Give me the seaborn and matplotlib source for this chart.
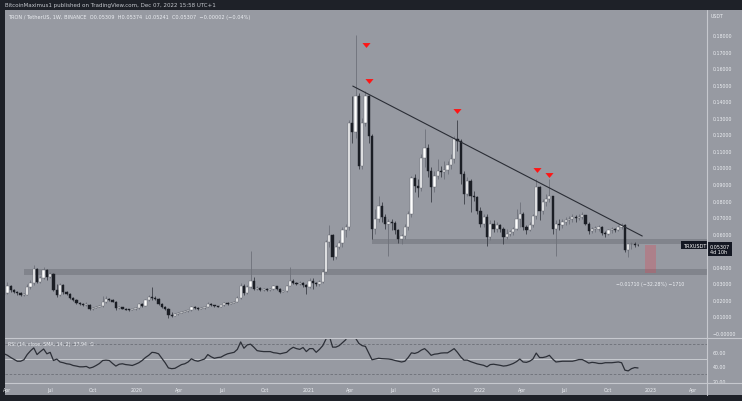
import numpy as np
import pandas as pd
import matplotlib
matplotlib.use("Agg")
import matplotlib.pyplot as plt
import matplotlib.dates as mdates
import matplotlib.transforms as mtransforms
from matplotlib.patches import Rectangle
from matplotlib.path import Path
import seaborn as sns

# ---------------- data (weekly TRX/USDT candles) ----------------
start_date = "2019-03-25"
first_open = 0.0232
closes = [
    0.0240, 0.0285, 0.0260, 0.0250, 0.0240, 0.0230, 0.0232, 0.0275, 0.0300, 0.0385,
    0.0310, 0.0330, 0.0378, 0.0340, 0.0355, 0.0262, 0.0228, 0.0290, 0.0245, 0.0235,
    0.0212, 0.0200, 0.0182, 0.0176, 0.0170, 0.0172, 0.0146, 0.0154, 0.0160, 0.0164,
    0.0186, 0.0205, 0.0200, 0.0190, 0.0152, 0.0156, 0.0148, 0.0142, 0.0139, 0.0143,
    0.0150, 0.0175, 0.0166, 0.0198, 0.0215, 0.0212, 0.0208, 0.0176, 0.0156, 0.0146,
    0.0110, 0.0105, 0.0115, 0.0121, 0.0128, 0.0132, 0.0136, 0.0156, 0.0150, 0.0148,
    0.0152, 0.0158, 0.0176, 0.0168, 0.0163, 0.0160, 0.0168, 0.0180, 0.0178, 0.0184,
    0.0188, 0.0211, 0.0284, 0.0240, 0.0278, 0.0314, 0.0266, 0.0272, 0.0262, 0.0265,
    0.0260, 0.0264, 0.0282, 0.0266, 0.0249, 0.0254, 0.0284, 0.0312, 0.0305, 0.0296,
    0.0302, 0.0288, 0.0278, 0.0315, 0.0300, 0.0295, 0.0310, 0.0370, 0.0550, 0.0592,
    0.0462, 0.0520, 0.0545, 0.0625, 0.0640, 0.1270, 0.1215, 0.1430, 0.1010, 0.1270,
    0.1430, 0.1190, 0.0630, 0.0690, 0.0770, 0.0700, 0.0660, 0.0670, 0.0665, 0.0620,
    0.0570, 0.0585, 0.0640, 0.0720, 0.0935, 0.0890, 0.0875, 0.1060, 0.1120, 0.0980,
    0.0880, 0.0950, 0.0980, 0.0970, 0.0985, 0.1015, 0.1050, 0.1170, 0.1160, 0.0960,
    0.0840, 0.0920, 0.0830, 0.0820, 0.0740, 0.0660, 0.0700, 0.0580, 0.0660, 0.0630,
    0.0650, 0.0630, 0.0580, 0.0600, 0.0610, 0.0630, 0.0690, 0.0720, 0.0640, 0.0625,
    0.0650, 0.0705, 0.0880, 0.0740, 0.0790, 0.0810, 0.0825, 0.0630, 0.0660, 0.0650,
    0.0672, 0.0680, 0.0688, 0.0700, 0.0692, 0.0700, 0.0710, 0.0660, 0.0618, 0.0628,
    0.0630, 0.0638, 0.0602, 0.0598, 0.0620, 0.0628, 0.0625, 0.0638, 0.0650, 0.0500,
    0.0535, 0.0540, 0.05309, 0.05307,
]
highs = [
    0.0255, 0.0310, 0.0290, 0.0265, 0.0255, 0.0245, 0.0240, 0.0295, 0.0320, 0.0410,
    0.0392, 0.0342, 0.0400, 0.0388, 0.0370, 0.0362, 0.0298, 0.0300, 0.0295, 0.0252,
    0.0240, 0.0218, 0.0205, 0.0188, 0.0180, 0.0185, 0.0176, 0.0160, 0.0165, 0.0170,
    0.0225, 0.0222, 0.0212, 0.0204, 0.0192, 0.0162, 0.0160, 0.0150, 0.0146, 0.0148,
    0.0155, 0.0182, 0.0180, 0.0205, 0.0228, 0.0280, 0.0222, 0.0212, 0.0180, 0.0162,
    0.0150, 0.0125, 0.0122, 0.0128, 0.0135, 0.0138, 0.0142, 0.0165, 0.0162, 0.0155,
    0.0158, 0.0164, 0.0188, 0.0180, 0.0172, 0.0166, 0.0172, 0.0190, 0.0185, 0.0190,
    0.0195, 0.0222, 0.0300, 0.0295, 0.0290, 0.0495, 0.0340, 0.0282, 0.0276, 0.0272,
    0.0270, 0.0270, 0.0290, 0.0286, 0.0270, 0.0260, 0.0292, 0.0400, 0.0325, 0.0310,
    0.0312, 0.0306, 0.0296, 0.0335, 0.0330, 0.0310, 0.0318, 0.0385, 0.0560, 0.0650,
    0.0600, 0.0530, 0.0560, 0.0640, 0.0660, 0.1290, 0.1430, 0.1800, 0.1450, 0.1300,
    0.1460, 0.1440, 0.1200, 0.0750, 0.0830, 0.0790, 0.0720, 0.0690, 0.0690, 0.0675,
    0.0630, 0.0600, 0.0660, 0.0740, 0.0950, 0.0960, 0.0930, 0.1080, 0.1230, 0.1140,
    0.1000, 0.0980, 0.1050, 0.1010, 0.1040, 0.1040, 0.1080, 0.1190, 0.1290, 0.1170,
    0.0980, 0.0940, 0.0930, 0.0860, 0.0830, 0.0760, 0.0720, 0.0720, 0.0680, 0.0680,
    0.0670, 0.0660, 0.0640, 0.0630, 0.0625, 0.0640, 0.0750, 0.0790, 0.0730, 0.0650,
    0.0670, 0.0720, 0.0930, 0.0890, 0.0810, 0.0840, 0.0930, 0.0830, 0.0680, 0.0690,
    0.0690, 0.0700, 0.0705, 0.0720, 0.0715, 0.0720, 0.0730, 0.0715, 0.0670, 0.0640,
    0.0645, 0.0650, 0.0645, 0.0615, 0.0630, 0.0638, 0.0635, 0.0650, 0.0665, 0.0660,
    0.0545, 0.0550, 0.0552, 0.05374,
]
lows = [
    0.0230, 0.0235, 0.0250, 0.0242, 0.0232, 0.0222, 0.0222, 0.0228, 0.0265, 0.0292,
    0.0300, 0.0305, 0.0325, 0.0320, 0.0330, 0.0255, 0.0220, 0.0225, 0.0238, 0.0228,
    0.0205, 0.0195, 0.0176, 0.0170, 0.0165, 0.0165, 0.0138, 0.0142, 0.0150, 0.0157,
    0.0160, 0.0182, 0.0192, 0.0185, 0.0140, 0.0145, 0.0144, 0.0138, 0.0132, 0.0136,
    0.0140, 0.0148, 0.0160, 0.0162, 0.0192, 0.0200, 0.0198, 0.0170, 0.0150, 0.0140,
    0.0090, 0.0098, 0.0100, 0.0110, 0.0118, 0.0124, 0.0128, 0.0134, 0.0144, 0.0138,
    0.0144, 0.0148, 0.0156, 0.0162, 0.0158, 0.0155, 0.0158, 0.0166, 0.0172, 0.0174,
    0.0180, 0.0185, 0.0205, 0.0232, 0.0236, 0.0270, 0.0258, 0.0260, 0.0255, 0.0256,
    0.0254, 0.0256, 0.0260, 0.0260, 0.0244, 0.0246, 0.0250, 0.0282, 0.0295, 0.0288,
    0.0292, 0.0280, 0.0236, 0.0270, 0.0266, 0.0282, 0.0285, 0.0300, 0.0360, 0.0520,
    0.0440, 0.0450, 0.0505, 0.0520, 0.0580, 0.0620, 0.1150, 0.1180, 0.0990, 0.0990,
    0.1250, 0.1150, 0.0570, 0.0600, 0.0670, 0.0670, 0.0630, 0.0465, 0.0620, 0.0600,
    0.0545, 0.0540, 0.0570, 0.0620, 0.0700, 0.0850, 0.0820, 0.0860, 0.1000, 0.0940,
    0.0790, 0.0850, 0.0930, 0.0940, 0.0930, 0.0960, 0.0990, 0.1030, 0.1100, 0.0900,
    0.0780, 0.0830, 0.0730, 0.0800, 0.0720, 0.0640, 0.0640, 0.0526, 0.0560, 0.0610,
    0.0610, 0.0610, 0.0540, 0.0570, 0.0585, 0.0595, 0.0620, 0.0640, 0.0620, 0.0600,
    0.0615, 0.0640, 0.0690, 0.0680, 0.0720, 0.0770, 0.0790, 0.0600, 0.0465, 0.0620,
    0.0635, 0.0650, 0.0660, 0.0670, 0.0670, 0.0680, 0.0690, 0.0650, 0.0600, 0.0605,
    0.0612, 0.0615, 0.0590, 0.0580, 0.0595, 0.0605, 0.0610, 0.0615, 0.0630, 0.0490,
    0.0460, 0.0505, 0.0520, 0.05241,
]
rsi_values = [
    57, 55, 52, 49.5, 47, 47, 49, 56, 61, 65,
    56, 60, 63.5, 57, 59, 48, 50, 46, 45, 43.6,
    43, 41.3, 40.5, 39.5, 39.5, 40, 37.8, 39, 41.3, 44,
    48, 48.5, 48, 44, 40.5, 43, 43.6, 42.5, 42, 41.3,
    43, 45, 48, 52, 55, 59, 58.5, 57, 51, 45,
    38, 37, 37.5, 40, 42.5, 43.6, 46, 50.3, 48, 47,
    48.5, 50, 56, 53, 51, 52, 52.5, 55, 57, 58,
    59, 63, 73, 64.5, 69, 70, 66, 61.3, 60.5, 60,
    60, 60, 58.5, 58, 57, 58, 59, 63, 65.8, 64,
    63, 65.5, 60, 64, 64, 59, 63, 68, 77, 81,
    66, 66, 68, 72, 76, 86, 83, 78, 71, 68,
    67, 58, 49, 50, 51, 50.5, 50.3, 50, 49.3, 48,
    47, 46, 47, 52, 58.3, 57.5, 59, 62, 64, 60,
    55, 56.5, 57, 58, 58.3, 58.3, 61, 64, 59, 53,
    48.5, 48.5, 46.5, 45, 43.5, 42.5, 41.5, 39.5, 42.5, 43,
    42.3, 41.5, 40.5, 41, 42.3, 44, 46.5, 50, 46, 45.5,
    47, 50, 58, 52, 52, 53, 55, 50, 46, 46.5,
    47, 47, 47, 47, 48, 49.3, 49.3, 47, 44.5, 45.5,
    45, 44, 44, 45, 45, 45, 45.5, 46, 45, 35,
    34, 37, 38.5, 37.94,
]

# 0.05 is hidden behind the last-price tag in the reference
price_ticks = [0.00, 0.01, 0.02, 0.03, 0.04, 0.06, 0.07, 0.08, 0.09,
               0.10, 0.11, 0.12, 0.13, 0.14, 0.15, 0.16, 0.17, 0.18]
rsi_ticks = [20, 40, 60]
rsi_levels_dashed = [70, 30]
rsi_level_mid = 50
last_price = 0.05307

band_starts = ["2019-05-06", "2021-05-16"]
band_lows = [0.0352, 0.0538]
band_highs = [0.0387, 0.0568]

trend_dates = ["2021-04-06", "2022-12-14"]
trend_prices = [0.1492, 0.0586]

marker_dates = ["2021-05-04", "2021-05-11", "2021-11-14", "2022-05-03", "2022-05-29"]
marker_prices = [0.1740, 0.1523, 0.1341, 0.0985, 0.0955]

measure_dates = ["2022-12-20", "2023-01-12"]
measure_prices = [0.03597, 0.05307]
measure_text = "\u22120.01710 (\u221232.28%) \u22121710"

# ---------------- style ----------------
sns.set_theme(style="dark")
plt.rcParams["font.family"] = ["DejaVu Sans"]

BG = "#979aa2"
FRAME = "#1e2128"
TXT = "#eceef2"
SEP = "#c6c8ce"

W, H = 742, 402
fig = plt.figure(figsize=(W / 100, H / 100), dpi=100, facecolor=FRAME)

# grey chart area (behind the axes)
fig.patches.append(Rectangle((5 / W, 6 / H), 737 / W, 385 / H, transform=fig.transFigure,
                             facecolor=BG, edgecolor="none", zorder=-10))

ax = fig.add_axes([5 / W, 63 / H, 702 / W, 327 / H], facecolor=BG)
ax2 = fig.add_axes([5 / W, 18 / H, 702 / W, 45 / H], facecolor=BG)

dates = pd.date_range(start_date, periods=len(closes), freq="7D")
x = mdates.date2num(dates)
c = np.array(closes)
o = np.array([first_open] + closes[:-1])
hi = np.array(highs)
lo = np.array(lows)
up = c >= o

x0 = mdates.date2num(pd.Timestamp(start_date)) + 1.7
x1 = mdates.date2num(pd.Timestamp(start_date)) + 1498.0

# bands
for s, bl, bh in zip(band_starts, band_lows, band_highs):
    xs = mdates.date2num(pd.Timestamp(s))
    ax.add_patch(Rectangle((xs, bl), x1 - xs, bh - bl, facecolor="#6f727a",
                           alpha=0.55, edgecolor="none", zorder=1))

# candles
ax.vlines(x[up], lo[up], hi[up], color="#6e717a", lw=0.6, zorder=2)
ax.vlines(x[~up], lo[~up], hi[~up], color="#3a3d45", lw=0.6, zorder=2)
bottom = np.minimum(o, c)
height = np.maximum(np.abs(c - o), 0.0004)
ax.bar(x[up], height[up], bottom=bottom[up], width=4.8, color="#ffffff",
       edgecolor="#5f626a", linewidth=0.3, zorder=3)
ax.bar(x[~up], height[~up], bottom=bottom[~up], width=4.8, color="#1b1e25",
       edgecolor="#1b1e25", linewidth=0.3, zorder=3)

# trend line
ax.plot(mdates.date2num(pd.to_datetime(trend_dates)), trend_prices,
        color="#2a2d35", lw=0.8, zorder=4)

# red markers
tri = Path([(-1, 0.6), (1, 0.6), (0, -0.6), (-1, 0.6)],
           [Path.MOVETO, Path.LINETO, Path.LINETO, Path.CLOSEPOLY])
ax.scatter(mdates.date2num(pd.to_datetime(marker_dates)), marker_prices,
           marker=tri, s=34, color="#ff1414", linewidths=0, zorder=5)

# measure box
mx = mdates.date2num(pd.to_datetime(measure_dates))
ax.add_patch(Rectangle((mx[0], measure_prices[0]), mx[1] - mx[0],
                       measure_prices[1] - measure_prices[0],
                       facecolor="#f23645", alpha=0.25, edgecolor="none", zorder=2))
ax.annotate(measure_text, xy=((mx[0] + mx[1]) / 2, measure_prices[0]),
            xytext=(0, -7), textcoords="offset points", ha="center", va="center",
            fontsize=3.4, color=TXT, zorder=6)

ax.set_xlim(x0, x1)
ax.set_ylim(-0.00302, 0.19456)
ax.yaxis.tick_right()
ax.set_yticks(price_ticks)
ax.set_yticklabels(["\u22120.00000" if t == 0 else f"{t:.5f}" for t in price_ticks])
ax.tick_params(axis="y", length=0, pad=4, labelsize=3.4, labelcolor=TXT)
ax.set_xticks([])
for sp in ax.spines.values():
    sp.set_visible(False)
ax.grid(False)

# last price labels
blend = mtransforms.blended_transform_factory(ax.transAxes, ax.transData)
ax.text(0.9985, last_price, "TRXUSDT", transform=blend, ha="right", va="center",
        fontsize=3.6, color="#ffffff", zorder=7,
        bbox=dict(boxstyle="square,pad=0.3", fc="#131722", ec="none"))
ax.text(1.004, last_price - 0.0023, f"{last_price:.5f}\n4d 10h", transform=blend,
        ha="left", va="center", fontsize=3.5, color="#ffffff", linespacing=1.15,
        zorder=7, clip_on=False,
        bbox=dict(boxstyle="square,pad=0.35", fc="#131722", ec="none"))

# ---------------- RSI pane ----------------
rsi_df = pd.DataFrame({"x": x, "rsi": rsi_values})
for lvl in rsi_levels_dashed:
    ax2.axhline(lvl, color="#6c6f77", lw=0.6, ls=(0, (3, 2)), zorder=1)
ax2.axhline(rsi_level_mid, color="#cfd1d6", lw=0.6, zorder=1)
sns.lineplot(data=rsi_df, x="x", y="rsi", ax=ax2, color="#2c2f37", lw=0.9, zorder=3)
ax2.set_xlim(x0, x1)
ax2.set_ylim(17.7, 78.3)
ax2.yaxis.tick_right()
ax2.set_yticks(rsi_ticks)
ax2.set_yticklabels([f"{t:.2f}" for t in rsi_ticks])
ax2.tick_params(axis="y", length=0, pad=4, labelsize=3.4, labelcolor=TXT)
ax2.set_xlabel("")
ax2.set_ylabel("")
ax2.xaxis.set_major_locator(mdates.MonthLocator(bymonth=[1, 4, 7, 10]))


def _fmt(v, pos):
    d = mdates.num2date(v)
    return d.strftime("%Y") if d.month == 1 else d.strftime("%b")


ax2.xaxis.set_major_formatter(plt.FuncFormatter(_fmt))
ax2.tick_params(axis="x", length=0, pad=3.2, labelsize=3.4, labelcolor=TXT)
for sp in ax2.spines.values():
    sp.set_visible(False)
ax2.grid(False)

# separators
fig.add_artist(plt.Line2D([5 / W, 1], [1 - 339 / H] * 2, transform=fig.transFigure,
                          color=SEP, lw=0.8))
fig.add_artist(plt.Line2D([5 / W, 1], [1 - 384 / H] * 2, transform=fig.transFigure,
                          color=SEP, lw=0.8))
fig.add_artist(plt.Line2D([707 / W] * 2, [1 - 11 / H, 1 - 396 / H], transform=fig.transFigure,
                          color=SEP, lw=0.8))

# texts
fig.text(5 / W, 1 - 5.5 / H,
         "BitcoinMaximus1 published on TradingView.com, Dec 07, 2022 15:58 UTC+1",
         fontsize=4.0, color="#c5c8ce", va="center", ha="left")
fig.text(8 / W, 1 - 17 / H,
         "TRON / TetherUS, 1W, BINANCE  O0.05309  H0.05374  L0.05241  C0.05307  "
         "\u22120.00002 (\u22120.04%)",
         fontsize=3.6, color=TXT, va="center", ha="left")
fig.text(711 / W, 1 - 16 / H, "USDT", fontsize=3.4, color=TXT, va="center", ha="left")
fig.text(8 / W, 1 - 345 / H, "RSI (14, close, SMA, 14, 2)  37.94  \u2205",
         fontsize=3.4, color=TXT, va="center", ha="left")

fig.savefig("out.png", dpi=100, facecolor=FRAME)
